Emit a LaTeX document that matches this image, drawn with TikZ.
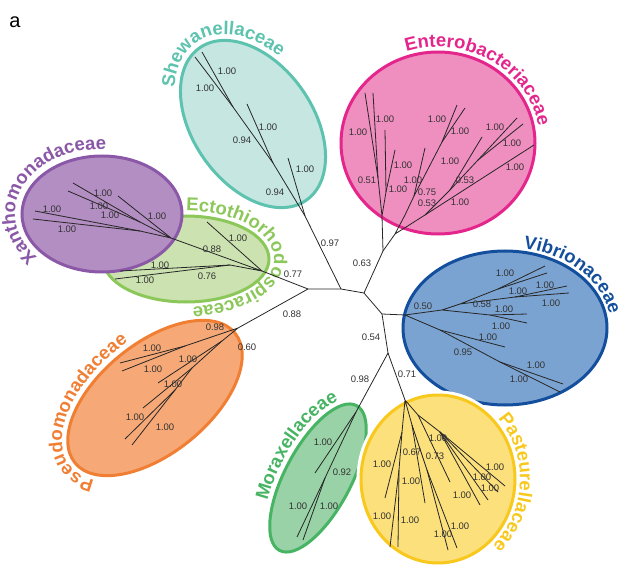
\documentclass[tikz,border=0pt]{standalone}
\usepackage{fontspec}
\setmainfont{Liberation Sans}
\usepackage{tikz}
\usetikzlibrary{decorations.text}
\definecolor{shewfill}{HTML}{C6E6E2}
\definecolor{shewline}{HTML}{5DC3AF}
\definecolor{enterofill}{HTML}{EF8FBF}
\definecolor{enteroline}{HTML}{E4268C}
\definecolor{xanfill}{HTML}{B38EC2}
\definecolor{xanline}{HTML}{8A58A6}
\definecolor{ectofill}{HTML}{CCE3B1}
\definecolor{ectoline}{HTML}{8CC75A}
\definecolor{pseudofill}{HTML}{F6A977}
\definecolor{pseudoline}{HTML}{F07F34}
\definecolor{vibfill}{HTML}{7BA3D1}
\definecolor{vibline}{HTML}{134F9C}
\definecolor{morfill}{HTML}{99D2A7}
\definecolor{morline}{HTML}{47B464}
\definecolor{pastfill}{HTML}{FBE07B}
\definecolor{pastline}{HTML}{F8C81C}
\newcommand{\famfont}{\fontsize{18.5}{18.5}\selectfont\bfseries}
% family name bent round its ellipse: cx, cy, rotation, rx, ry, start, end, colour, text
\newcommand{\famlabel}[9]{%
  \path[shift={(#1,#2)},rotate=#3,
    decoration={text along path,text color=#8,text={|\famfont|#9}},decorate]
    (#6:#4pt and #5pt) arc[start angle=#6,end angle=#7,x radius=#4pt,y radius=#5pt];}

\begin{document}
\begin{tikzpicture}[x=1pt,y=-1pt]
  \tikzstyle{branch}=[draw=black!85,line width=0.8pt]
  \tikzstyle{boot}=[font=\fontsize{9.5}{9.5}\selectfont,text=black!80,inner sep=0pt]
  \tikzstyle{famblob}=[line width=3pt]
  \useasboundingbox (0,0) rectangle (619,567);
  \node[font=\fontsize{20}{20}\selectfont] (panel) at (15,22) {a};

  % clade ellipses
  \draw[famblob,fill=shewfill,draw=shewline,shift={(253,124)},rotate=-55] (0,0) ellipse [x radius=93pt,y radius=60pt];
  \draw[famblob,fill=enterofill,draw=enteroline,shift={(438,143)}] (0,0) ellipse [x radius=97pt,y radius=91pt];
  \draw[famblob,fill=ectofill,draw=ectoline,shift={(186,259)}] (0,0) ellipse [x radius=83pt,y radius=43pt];
  \draw[famblob,fill=xanfill,draw=xanline,shift={(102,214)}] (0,0) ellipse [x radius=80pt,y radius=58pt];
  \draw[famblob,fill=pseudofill,draw=pseudoline,shift={(155,398)},rotate=39] (0,0) ellipse [x radius=103pt,y radius=55pt];
  \draw[famblob,fill=vibfill,draw=vibline,shift={(505,328)}] (0,0) ellipse [x radius=102pt,y radius=77pt];
  \draw[famblob,fill=morfill,draw=morline,shift={(318,478)},rotate=62] (0,0) ellipse [x radius=82pt,y radius=33pt];
  \draw[white,line width=9pt,shift={(438,479)}] (0,0) ellipse [x radius=77pt,y radius=84pt];
  \draw[famblob,fill=pastfill,draw=pastline,shift={(438,479)}] (0,0) ellipse [x radius=77pt,y radius=84pt];

  % family names
  \famlabel{253}{124}{-55}{99}{66}{221}{40}{shewline}{Shewanellaceae}
  \famlabel{438}{143}{0}{102}{96}{108}{-60}{enteroline}{Enterobacteriaceae}
  \famlabel{186}{259}{0}{88}{48}{90}{-120}{ectoline}{Ectothiorhodospiraceae}
  \famlabel{102}{214}{0}{87}{65}{222}{30}{xanline}{Xanthomonadaceae}
  \famlabel{155}{398}{39}{109}{61}{205}{60}{pseudoline}{Pseudomonadaceae}
  \famlabel{505}{328}{0}{106}{81}{80}{-40}{vibline}{Vibrionaceae}
  \famlabel{318}{478}{62}{88}{39}{120}{-30}{morline}{Moraxellaceae}
  \famlabel{438}{479}{0}{82}{89}{43}{-100}{pastline}{Pasteurellaceae}

  % inner nodes of the tree
  \coordinate (A) at (308,289);
  \coordinate (B) at (341,289);
  \coordinate (C) at (364,293);
  \coordinate (D) at (382,314);
  \coordinate (E) at (388,353);
  \coordinate (S0) at (305,216);
  \coordinate (S1) at (273,163);
  \coordinate (S2) at (233,107);
  \coordinate (EN0) at (383,251);
  \coordinate (EL) at (382,216);
  \coordinate (ELa) at (378,178);
  \coordinate (ELb) at (386,192);
  \coordinate (ER) at (395,234);
  \coordinate (ER1) at (405,215);
  \coordinate (ER2) at (414,196);
  \coordinate (ER3) at (442,142);
  \coordinate (ER4) at (425,215);
  \coordinate (ER5) at (450,190);
  \coordinate (ER6) at (478,160);
  \coordinate (X0) at (262,271);
  \coordinate (E1) at (230,265);
  \coordinate (XA) at (171,238);
  \coordinate (XC) at (140,222);
  \coordinate (XD) at (140,231);
  \coordinate (P0) at (238,328);
  \coordinate (P1) at (185,346);
  \coordinate (P2) at (222,341);
  \coordinate (P3) at (192,368);
  \coordinate (P4) at (175,390);
  \coordinate (V0) at (405,315);
  \coordinate (V1) at (442,310);
  \coordinate (V2) at (460,304);
  \coordinate (Va) at (498,289);
  \coordinate (Vb) at (515,297);
  \coordinate (Vc) at (490,315);
  \coordinate (V3) at (440,330);
  \coordinate (V4) at (500,362);
  \coordinate (M0) at (356,412);
  \coordinate (M1) at (325,478);
  \coordinate (Pa0) at (405,400);
  \coordinate (Pb) at (402,432);
  \coordinate (Pc) at (399,470);
  \coordinate (Pd) at (412,425);
  \coordinate (Pe) at (427,470);
  \coordinate (Pf) at (418,415);
  \coordinate (Pg) at (440,432);

  \draw[branch] (A) -- (B) -- (C) -- (D) -- (E);
  \draw[branch] (B) -- (S0) -- (S1) -- (S2);
  \draw[branch] (C) -- (EN0) -- (EL) -- (ELa) (EL) -- (ELb);
  \draw[branch] (EN0) -- (ER) -- (ER1) -- (ER2) -- (ER3) (ER) -- (ER4) -- (ER5) -- (ER6);
  \draw[branch] (A) -- (X0) -- (XA) -- (XC) (XA) -- (XD) (X0) -- (E1);
  \draw[branch] (A) -- (P0) -- (P1) (P0) -- (P2) -- (P3) -- (P4);
  \draw[branch] (D) -- (V0) -- (V1) -- (V2) -- (Va) (V2) -- (Vb) (V1) -- (Vc) (V0) -- (V3) -- (V4);
  \draw[branch] (E) -- (M0) -- (M1);
  \draw[branch] (E) -- (Pa0) -- (Pb) -- (Pc) (Pa0) -- (Pd) -- (Pe) (Pa0) -- (Pf) -- (Pg);

  % leaves
  \foreach \from/\tip/\x/\y in {S0/sh1/288/158, S1/sh2/247/104, S2/sh3/195/57, S2/sh4/202/52,
      ELa/en1/365/93, ELa/en2/373/93, ELb/en3/385/130, ELb/en4/395/150,
      ER2/en5/425/148, ER3/en6/457/105, ER3/en7/465/108, ER4/en8/534/145, ER5/en9/482/137,
      ER6/en10/517/118, ER6/en11/523/124,
      X0/ec1/207/222, E1/ec2/120/271, E1/ec3/115/279,
      XA/xa1/118/196, XC/xa2/73/183, XC/xa3/68/191, XD/xa4/35/211, XD/xa5/33/219,
      P1/ps1/120/363, P1/ps2/122/371, P2/ps3/158/383, P3/ps4/143/408, P4/ps5/125/439, P4/ps6/132/445,
      Va/vi1/545/266, Va/vi2/547/273, Vb/vi3/567/286, Vb/vi4/569/293, Vc/vi5/527/314, Vc/vi6/527/323,
      V3/vi7/505/347, V4/vi8/563/384, V4/vi9/560/392,
      M0/mo1/315/473, M1/mo2/297/537, M1/mo3/303/540,
      Pb/pa1/385/498, Pc/pa2/390/547, Pc/pa3/398/547, Pd/pa4/425/503, Pe/pa5/448/550, Pe/pa6/457/548,
      Pf/pa7/450/482, Pg/pa8/505/486, Pg/pa9/498/492, Pg/pa10/488/500, Pg/pa11/480/505}
  {
    \coordinate (\tip) at (\x,\y);
    \draw[branch] (\from) -- (\tip);
  }

  % support values
  \foreach \x/\y/\v [count=\i] in {227/71/1.00, 205/88/1.00, 268/127/1.00, 242/140/0.94, 305/169/1.00, 275/192/0.94,
      330/243/0.97, 293/274/0.77, 292/314/0.88, 362/263/0.63, 371/337/0.54, 360/379/0.98, 407/374/0.71,
      385/119/1.00, 358/132/1.00, 403/165/1.00, 367/180/0.51, 398/189/1.00, 413/180/1.00, 427/192/0.75,
      427/203/0.53, 437/119/1.00, 460/131/1.00, 450/161/1.00, 465/180/0.53, 460/202/1.00, 495/127/1.00,
      512/143/1.00, 515/167/1.00,
      103/193/1.00, 99/206/1.00, 110/215/1.00, 52/209/1.00, 67/229/1.00, 157/216/1.00,
      212/249/0.88, 238/238/1.00, 160/265/1.00, 207/276/0.76, 145/280/1.00,
      215/327/0.98, 152/348/1.00, 153/369/1.00, 188/359/1.00, 173/384/1.00, 135/417/1.00, 165/427/1.00,
      247/347/0.60,
      423/306/0.50, 482/304/0.58, 505/273/1.00, 518/291/1.00, 545/285/1.00, 551/303/1.00, 504/309/1.00,
      501/326/1.00, 488/337/1.00, 463/352/0.95, 536/365/1.00, 519/379/1.00,
      323/442/1.00, 342/472/0.92, 298/506/1.00, 329/506/1.00,
      382/464/1.00, 412/452/0.67, 435/456/0.73, 438/438/1.00, 411/481/1.00, 495/467/1.00, 482/477/1.00,
      490/488/1.00, 462/495/1.00, 382/516/1.00, 410/520/1.00, 460/526/1.00, 443/534/1.00}
    \node[boot] (bs\i) at (\x,\y) {\v};
\end{tikzpicture}
\end{document}
